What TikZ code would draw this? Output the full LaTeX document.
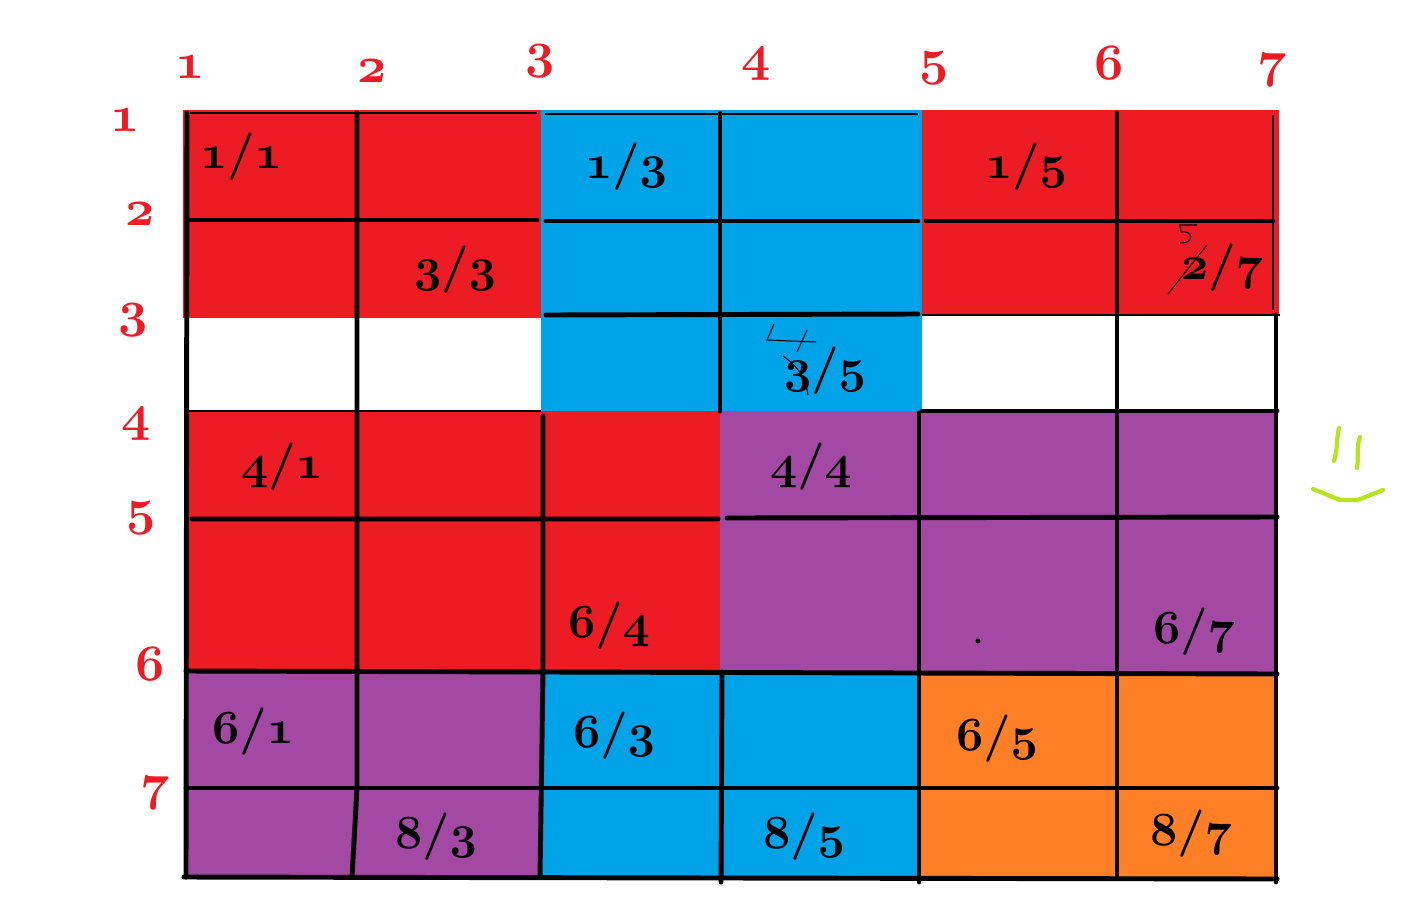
\documentclass[tikz,border=0pt]{standalone}
\usepackage{xcolor}
\usetikzlibrary{positioning}
\definecolor{paintred}{HTML}{ED1C24}
\definecolor{paintblue}{HTML}{00A2E8}
\definecolor{paintpurple}{HTML}{A349A4}
\definecolor{paintorange}{HTML}{FF7F27}
\definecolor{paintlime}{HTML}{B5E61D}
% bold old-style digits and slash from the math italic font, any size
\DeclareFontFamily{OML}{oldcmm}{\skewchar\font127}
\DeclareFontShape{OML}{oldcmm}{b}{it}{<->cmmib10}{}
\newcommand{\oldbold}{\usefont{OML}{oldcmm}{b}{it}}
\newcommand{\cellnum}[2]{#1\char61 #2}

\begin{document}
\begin{tikzpicture}[
    x=0.02cm, y=-0.02cm,
    gridline/.style={line width=2.8pt, line cap=round},
    thinline/.style={line width=1.1pt},
    cell/.style={font=\fontsize{27}{32}\oldbold, anchor=base, inner sep=0pt},
    idx/.style={font=\fontsize{29}{34}\oldbold, text=paintred, anchor=base, inner sep=0pt},
    scribble/.style={line width=0.6pt},
    smile/.style={paintlime, line width=2.4pt, line cap=round, line join=round},
]
\useasboundingbox (0,0) rectangle (1408,899);

% Coloured blocks
\fill[paintred] (183,110) rectangle (541,318);
\fill[paintblue] (541,110) rectangle (922,411);
\fill[paintred] (922,110) rectangle (1279,315);
\fill[paintred] (186,411) rectangle (720,672);
\fill[paintpurple] (720,411) rectangle (1277,672);
\fill[paintpurple] (186,672) rectangle (541,877);
\fill[paintblue] (541,672) rectangle (919,877);
\fill[paintorange] (919,672) rectangle (1277,877);

% Horizontal lines
\draw[thinline] (190,113) -- (537,113) (545,114) -- (918,114);
\draw[gridline] (188,220) -- (537,220) (546,221) -- (918,221) (926,221) -- (1273,221);
\draw[gridline] (546,315) -- (918,314);
\draw[thinline] (922,315) -- (1280,315);
\draw[thinline] (186,411) -- (541,411);
\draw[gridline] (922,411) -- (1277,411);
\draw[gridline] (192,519) -- (718,519) (727,518) -- (1277,517);
\draw[gridline] (186,671) -- (1277,674);
\draw[gridline] (186,788) -- (1277,788);
\draw[gridline] (184,877) -- (1277,879);

% Vertical lines
\draw[gridline] (187,113) -- (186,877);
\draw[gridline] (357,113) -- (357,788) -- (352,877);
\draw[gridline] (543,416) -- (543,672) -- (540,877);
\draw[gridline] (720,113) -- (720,411);
\draw[gridline] (722,672) -- (721,882);
\draw[gridline] (919,413) -- (919,882);
\draw[gridline] (1117,113) -- (1117,877);
\draw[thinline] (1273,115) -- (1273,310);
\draw[gridline] (1276,315) -- (1276,882);

% Column numbers
\node[idx] (col1) at (190,78) {1};
\node[idx] (col2) at (372,82) {2};
\node[idx] (col3) at (540,67) {3};
\node[idx] (col4) at (756,70) {4};
\node[idx] (col5) at (934,74) {5};
\node[idx] (col6) at (1109,79) {6};
\node[idx] (col7) at (1272,76) {7};

% Row numbers
\node[idx] (row1) at (125,131) {1};
\node[idx] (row2) at (140,225) {2};
\node[idx] (row3) at (133,326) {3};
\node[idx] (row4) at (136,430) {4};
\node[idx] (row5) at (141,524) {5};
\node[idx] (row6) at (150,680) {6};
\node[idx] (row7) at (155,799) {7};

% Cell labels
\node[cell] (c11) at (241,168) {\cellnum{1}{1}};
\node[cell] (c13) at (626,178) {\cellnum{1}{3}};
\node[cell] (c15) at (1026,178) {\cellnum{1}{5}};
\node[cell] (c33) at (455,281) {\cellnum{3}{3}};
\node[cell] (c27) at (1222,279) {\cellnum{2}{7}};
\node[cell] (c35) at (825,382) {\cellnum{3}{5}};
\node[cell] (c41) at (282,478) {\cellnum{4}{1}};
\node[cell] (c44) at (811,478) {\cellnum{4}{4}};
\node[cell] (c64) at (609,637) {\cellnum{6}{4}};
\node[cell] (c67) at (1194,643) {\cellnum{6}{7}};
\node[cell] (c61) at (253,743) {\cellnum{6}{1}};
\node[cell] (c63) at (614,747) {\cellnum{6}{3}};
\node[cell] (c65) at (997,750) {\cellnum{6}{5}};
\node[cell] (c83) at (436,848) {\cellnum{8}{3}};
\node[cell] (c85) at (804,848) {\cellnum{8}{5}};
\node[cell] (c87) at (1191,845) {\cellnum{8}{7}};

% Corrections
\draw[scribble] (1197,225) -- (1180,225) -- (1181,232) .. controls (1194,230) and (1194,244) .. (1180,243);
\draw[scribble] (1168,294) -- (1207,245);
\draw[scribble] (774,324) -- (767,340) -- (816,342) (807,330) -- (797,352);
\draw[scribble] (783,356) .. controls (800,368) and (806,380) .. (808,395);

% Stray dot
\fill (978,641) circle (2.5);

% Smiley
\draw[smile] (1339,428) .. controls (1336,440) and (1338,448) .. (1334,461);
\draw[smile] (1360,437) .. controls (1356,448) and (1359,456) .. (1357,468);
\draw[smile] (1313,489) -- (1340,500) -- (1358,500) -- (1383,490);

\end{tikzpicture}
\end{document}
